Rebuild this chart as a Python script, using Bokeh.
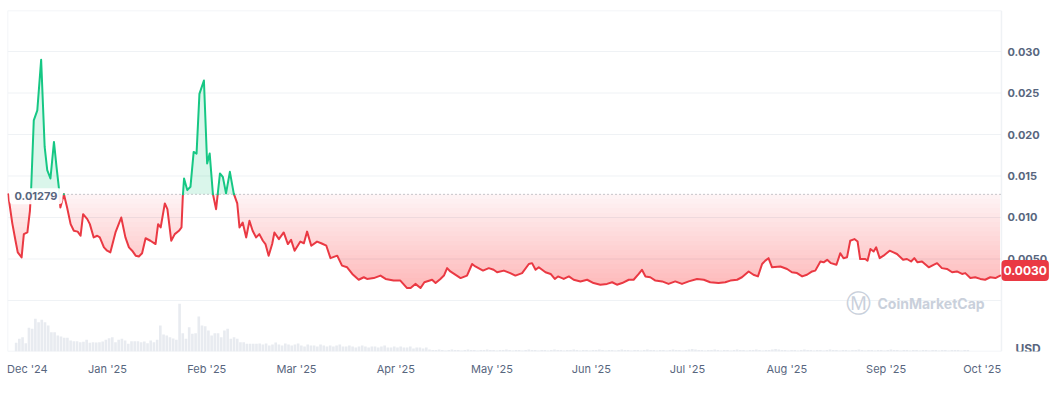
import numpy as np
from datetime import date
from bokeh.plotting import figure
from bokeh.models import Range1d, FixedTicker, Label
from bokeh.core.properties import value
from bokeh.embed import file_html
from bokeh.resources import INLINE

# ---------------- data ----------------
start_date = date(2024, 12, 1)

day_offset = [0, 1.3, 2.3, 3.0, 4.2, 4.9, 6.0, 6.8, 7.2, 8.0, 9.1, 10.3, 11.4, 12.2, 13.2, 14.3,
              15.1, 15.8, 16.3, 17.4, 18.4, 19.5, 20.5, 21.7, 22.6, 23.4, 24.7, 25.5, 26.7, 27.8,
              28.6, 29.9, 30.9, 31.9, 33.5, 34.5, 35.3, 36.6, 37.7, 38.7, 39.8, 40.8, 41.8, 42.9,
              44.4, 46.0, 46.8, 47.6, 48.9, 49.7, 50.9, 52.0, 53.3, 54.1, 54.5, 54.9, 55.9, 56.9,
              57.9, 58.8, 59.7, 61.1, 62.1, 62.9, 63.9, 64.9, 66.1, 67.0, 68.0, 69.2, 70.4, 71.5,
              72.2, 73.2, 74.3, 75.3, 76.3, 77.4, 78.4, 79.5, 80.3, 81.3, 82.4, 83.1, 84.5, 86.0,
              87.3, 88.3, 89.4, 91.2, 92.3, 93.3, 94.6, 96.4, 97.7, 99.3, 100.6, 102.7, 104.2,
              105.8, 107.4, 109.4, 111.0, 112.0, 114.1, 116.2, 117.8, 120.3, 122.4, 124.5, 125.6,
              127.1, 128.7, 129.9, 132.3, 133.4, 134.9, 136.0, 137.0, 138.0, 141.2, 143.2, 144.8,
              145.8, 148.2, 150.0, 151.5, 152.6, 154.7, 156.7, 158.3, 160.4, 162.5, 163.5, 164.6,
              165.6, 167.7, 169.3, 170.6, 171.6, 173.4, 175.0, 176.5, 178.6, 180.7, 182.7, 184.8,
              186.9, 188.5, 190.0, 191.6, 193.7, 195.2, 196.8, 197.8, 198.9, 200.4, 202.0, 204.1,
              206.1, 208.2, 210.3, 212.4, 215.0, 217.1, 219.1, 221.7, 223.8, 225.4, 227.5, 229.0,
              231.1, 232.6, 234.0, 235.3, 236.3, 237.3, 238.4, 241.0, 243.1, 244.6, 246.2, 247.8,
              249.3, 250.9, 251.9, 253.5, 254.5, 255.6, 256.8, 258.5, 259.7, 260.7, 261.8, 262.8,
              264.1, 265.1, 265.9, 267.5, 268.2, 269.1, 270.1, 270.9, 272.0, 273.2, 275.1, 276.3,
              277.4, 279.3, 280.5, 281.8, 282.8, 283.8, 285.2, 287.3, 288.8, 289.9, 291.4, 293.0,
              294.6, 296.1, 297.7, 298.7, 300.3, 301.8, 303.4, 304.9, 306.5, 308.1, 309.6]

price = [0.01279, 0.0093, 0.0072, 0.0058, 0.0052, 0.0080, 0.0082, 0.0108, 0.01365, 0.0217, 0.0229,
         0.0290, 0.0185, 0.0157, 0.0147, 0.0191, 0.0161, 0.0137, 0.0112, 0.0128, 0.0112, 0.0092,
         0.0084, 0.0083, 0.0078, 0.0104, 0.0098, 0.0092, 0.0076, 0.0078, 0.0076, 0.0064, 0.0060,
         0.0058, 0.0082, 0.0092, 0.0100, 0.0076, 0.0064, 0.0060, 0.0054, 0.0053, 0.0057, 0.0075,
         0.0072, 0.0068, 0.0092, 0.0088, 0.0117, 0.0110, 0.0072, 0.0080, 0.0084, 0.0088, 0.01245,
         0.0147, 0.0133, 0.0137, 0.0179, 0.0177, 0.0249, 0.0265, 0.0165, 0.0177, 0.01285, 0.0110,
         0.0153, 0.0149, 0.0129, 0.0155, 0.0129, 0.0117, 0.0088, 0.0094, 0.0076, 0.0096, 0.0084,
         0.0076, 0.0080, 0.0072, 0.0068, 0.0054, 0.0068, 0.0082, 0.0074, 0.0082, 0.0068, 0.0073,
         0.0060, 0.0071, 0.0069, 0.0083, 0.0066, 0.0071, 0.0069, 0.0066, 0.0051, 0.0054, 0.0042,
         0.0040, 0.0032, 0.0025, 0.0028, 0.0026, 0.0027, 0.0030, 0.0026, 0.0024, 0.0024, 0.0015,
         0.0015, 0.0020, 0.0015, 0.0022, 0.0025, 0.0021, 0.0026, 0.0030, 0.0039, 0.0035, 0.0027,
         0.0030, 0.0044, 0.0041, 0.0036, 0.0039, 0.0037, 0.0034, 0.0036, 0.0033, 0.0030, 0.0033,
         0.0044, 0.0045, 0.0037, 0.0040, 0.0034, 0.0032, 0.0026, 0.0029, 0.0026, 0.0029, 0.0025,
         0.0023, 0.0025, 0.0021, 0.0019, 0.0020, 0.0022, 0.0019, 0.0021, 0.0025, 0.0025, 0.0032,
         0.0037, 0.0029, 0.0028, 0.0024, 0.0023, 0.0020, 0.0023, 0.0020, 0.0023, 0.0026, 0.0025,
         0.0022, 0.0021, 0.0022, 0.0024, 0.0025, 0.0028, 0.0035, 0.0031, 0.0029, 0.0044, 0.0048,
         0.0051, 0.0040, 0.0041, 0.0038, 0.0034, 0.0033, 0.0029, 0.0031, 0.0035, 0.0036, 0.0047,
         0.0046, 0.0049, 0.0045, 0.0043, 0.0057, 0.0051, 0.0052, 0.0072, 0.0074, 0.0071, 0.0050,
         0.0050, 0.0048, 0.0062, 0.0059, 0.0064, 0.0051, 0.0054, 0.0060, 0.0058, 0.0056, 0.0049,
         0.0050, 0.0047, 0.0051, 0.0046, 0.0047, 0.0040, 0.0043, 0.0045, 0.0039, 0.0038, 0.0034,
         0.0035, 0.0032, 0.0033, 0.0027, 0.0028, 0.0026, 0.0025, 0.0028, 0.0027, 0.0030]

open_price = 0.01279
open_label = "0.01279"
last_label = "0.0030"
currency = "USD"
watermark = "CoinMarketCap"

vol_first_day = 2
volume = [8.7, 12.7, 14.3, 8.3, 23.7, 22.7, 32.7, 29.3, 31.7, 29.3,
          26, 19.3, 19.3, 16, 15, 13.7, 13.7, 11, 10.3, 10.3,
          9.3, 9.7, 11.7, 8.7, 9.3, 9.0, 9.3, 10, 11.7, 13.3,
          14.3, 9.3, 11.7, 12.7, 11, 7.7, 10.3, 10.3, 10.3, 9.3,
          10, 8.3, 11, 9.3, 11.7, 26, 17, 16, 14.3, 13,
          11.7, 47.7, 18.3, 12.7, 24.3, 17.7, 18.3, 35, 26, 25.3,
          21, 16, 18.3, 18.3, 14.3, 21, 22.7, 12.7, 14.3, 12.7,
          9.3, 9.3, 7.7, 7.7, 7.7, 7.7,
          8, 7, 8, 6, 7, 9, 7, 6, 8, 7,
          6, 7, 8, 6, 5, 7, 6, 6, 5, 7,
          6, 5, 6, 5, 6, 7, 5, 5, 6, 5,
          4, 5, 6, 5, 4, 5, 5, 4, 5, 6,
          4, 4, 5, 4, 5, 4, 4, 5, 3, 4,
          4, 3, 4,
          2, 1.5, 1.5, 2, 1.5, 1, 1.5, 2, 1.5, 1.5, 1, 1.5, 2, 1.5, 1.5, 1, 1.5, 1.5, 2, 1.5,
          1.5, 1, 1.5, 1.5, 2, 1.5, 1, 1.5, 1.5, 1, 1.5, 2, 1.5, 1.5, 1, 1.5, 1.5, 1, 1.5, 2,
          1.5, 1.5, 1, 1.5, 1.5, 2, 1.5, 1, 1.5, 1.5, 1, 1.5, 1.5, 2, 1.5, 1, 1.5, 1.5, 1, 1.5,
          2, 1.5, 1.5, 1, 1.5, 1.5, 1, 1.5, 2, 1.5, 1.5, 1, 1.5, 1.5, 1, 1.5, 2, 1.5, 1.5, 1,
          1.5, 2, 2.5, 2, 1.5, 1.5, 1, 1.5, 1.5, 2, 1.5, 1, 1.5, 1.5, 1, 1.5, 2, 1.5, 1.5, 1,
          1.5, 1.5, 2, 1.5, 1, 1.5, 1.5, 2, 2.5, 2, 1.5, 1.5, 1, 1.5, 1.5, 1, 1.5, 2, 1.5, 1.5,
          1, 1.5, 1.5, 1, 1.5, 2, 1.5, 1.5, 1, 1.5, 1.5, 1, 1.5, 1.5, 2, 1.5, 1, 1.5, 1.5, 1,
          1.5, 1.5, 1, 1.5, 2, 1.5, 1.5, 1, 1.5, 1.5, 1, 1.5, 1.5, 1, 1.5, 1.5, 1, 1.5, 1.5, 1,
          1.5, 1.5, 1, 1.5, 1.5, 1.5, 1, 1.5, 1.5]

month_labels = ["Dec '24", "Jan '25", "Feb '25", "Mar '25", "Apr '25", "May '25",
                "Jun '25", "Jul '25", "Aug '25", "Sep '25", "Oct '25"]
month_label_dates = [date(2024, 12, 7), date(2025, 1, 1), date(2025, 2, 1), date(2025, 3, 1),
                     date(2025, 4, 1), date(2025, 5, 1), date(2025, 6, 1), date(2025, 7, 1),
                     date(2025, 8, 1), date(2025, 9, 1), date(2025, 10, 1)]

y_ticks = [0.0, 0.005, 0.010, 0.015, 0.020, 0.025, 0.030]
y_tick_labels = ["", "0.0050", "0.010", "0.015", "0.020", "0.025", "0.030"]

# ---------------- styles ----------------
GREEN = "#16c784"
RED = "#ea3943"
GRID = "#eff2f5"
TXT = "#58667e"
FONT = "Inter"
FS = "11px"

# data area spans x_start..x_plot_end; the frame continues to the right to host the price scale
x_start, x_plot_end = -0.2, 310.0
x_frame_end = 327.8
y_start, y_end = -0.006145, 0.03494

p = figure(width=1058, height=395, output_backend="svg", toolbar_location=None,
           x_range=Range1d(x_start, x_frame_end), y_range=Range1d(y_start, y_end),
           y_axis_location=None, min_border_left=7, min_border_right=0,
           min_border_top=10, min_border_bottom=44)
p.background_fill_color = "white"
p.border_fill_color = "white"
p.outline_line_color = None
p.xgrid.grid_line_color = None
p.ygrid.grid_line_color = None

# grid lines and border of the data area
p.segment(x0=[x_start] * len(y_ticks), x1=[x_plot_end] * len(y_ticks), y0=y_ticks, y1=y_ticks,
          line_color=GRID, line_width=1)
p.segment(x0=[x_start, x_start, x_start, x_plot_end], x1=[x_plot_end, x_plot_end, x_start, x_plot_end],
          y0=[y_end, y_start, y_start, y_start], y1=[y_end, y_start, y_end, y_end],
          line_color=GRID, line_width=1.5)

# volume
vmax = 341.0
p.extra_y_ranges = {"vol": Range1d(0, vmax)}
vol_x = [vol_first_day + i + 0.5 for i in range(len(volume))]
p.vbar(x=vol_x, top=volume, bottom=0, width=0.82, y_range_name="vol",
       fill_color="#e8ebf0", line_color=None)

# split at open price
d = np.array(day_offset, dtype=float)
v = np.array(price, dtype=float)
base = open_price
xs, ys = [], []
for i in range(len(d)):
    if i > 0:
        a, b = v[i - 1], v[i]
        if (a - base) * (b - base) < 0:
            t = (base - a) / (b - a)
            xs.append(d[i - 1] + t * (d[i] - d[i - 1]))
            ys.append(base)
    xs.append(d[i])
    ys.append(v[i])
xs = np.array(xs)
ys = np.array(ys)

# green area
p.varea(x=xs, y1=np.full_like(ys, base), y2=np.maximum(ys, base),
        fill_color=GREEN, fill_alpha=0.16)

# red gradient area (stacked layers)
p.varea(x=xs, y1=np.minimum(ys, base), y2=np.full_like(ys, base),
        fill_color=RED, fill_alpha=0.06)
n_layers = 20
low = 0.0010
for k in range(1, n_layers + 1):
    L = base - (base - low) * k / (n_layers + 1)
    p.varea(x=xs, y1=np.minimum(ys, L), y2=np.full_like(ys, L),
            fill_color=RED, fill_alpha=0.014)

# baseline (dotted)
p.segment(x0=[x_start], x1=[x_plot_end], y0=[base], y1=[base], line_color="#8f949c",
          line_dash="1 3", line_width=1)

# lines
g_line = np.where(ys >= base, ys, np.nan)
r_line = np.where(ys <= base, ys, np.nan)
p.line(xs, r_line, line_color=RED, line_width=2, line_join="round", line_cap="round")
p.line(xs, g_line, line_color=GREEN, line_width=2, line_join="round", line_cap="round")

# price scale labels (right side)
p.text(x=[x_plot_end] * (len(y_ticks) - 1), y=y_ticks[1:], text=y_tick_labels[1:],
       x_offset=6, text_baseline="middle", text_align="left", text_font=value(FONT),
       text_font_size=FS, text_font_style="bold", text_color=TXT)

# x axis
x_ticks = [(dd - start_date).days for dd in month_label_dates]
p.xaxis.ticker = FixedTicker(ticks=x_ticks)
p.xaxis.major_label_overrides = {t: s for t, s in zip(x_ticks, month_labels)}
p.xaxis.axis_line_color = None
p.xaxis.major_tick_line_color = None
p.xaxis.minor_tick_line_color = None
p.xaxis.major_tick_out = 0
p.xaxis.major_tick_in = 0
p.xaxis.minor_tick_out = 0
p.xaxis.major_label_standoff = 10
p.xaxis.major_label_text_font = FONT
p.xaxis.major_label_text_font_size = FS
p.xaxis.major_label_text_color = TXT

# labels
p.add_layout(Label(x=x_start, y=base, text=open_label, x_offset=2, y_offset=-2,
                   text_baseline="middle", text_align="left", text_font=FONT,
                   text_font_size=FS, text_font_style="bold", text_color=TXT,
                   background_fill_color="white", background_fill_alpha=0.92,
                   padding=(5, 4), border_radius=4))

p.add_layout(Label(x=x_plot_end, y=v[-1], text=last_label, x_offset=0, y_offset=5,
                   text_baseline="middle", text_align="left", text_font=FONT,
                   text_font_size="12px", text_font_style="bold", text_color="white",
                   background_fill_color=RED, background_fill_alpha=1.0,
                   padding=(2, 6), border_radius=4))

p.add_layout(Label(x=x_plot_end, y=y_start, text=currency, x_offset=14, y_offset=3,
                   text_baseline="middle", text_align="left", text_font=FONT,
                   text_font_size="12px", text_font_style="bold", text_color=TXT))

# watermark
p.add_layout(Label(x=870, y=48, x_units="screen", y_units="screen", text=watermark,
                   text_baseline="middle", text_align="left", text_font=FONT,
                   text_font_size="14px", text_font_style="bold", text_color="#c9d0db"))
p.add_layout(Label(x=851, y=48, x_units="screen", y_units="screen", text="Ⓜ",
                   text_baseline="middle", text_align="center", text_font="DejaVu Sans",
                   text_font_size="25px", text_color="#c9d0db"))

open("out.html", "w").write(file_html(p, INLINE))
